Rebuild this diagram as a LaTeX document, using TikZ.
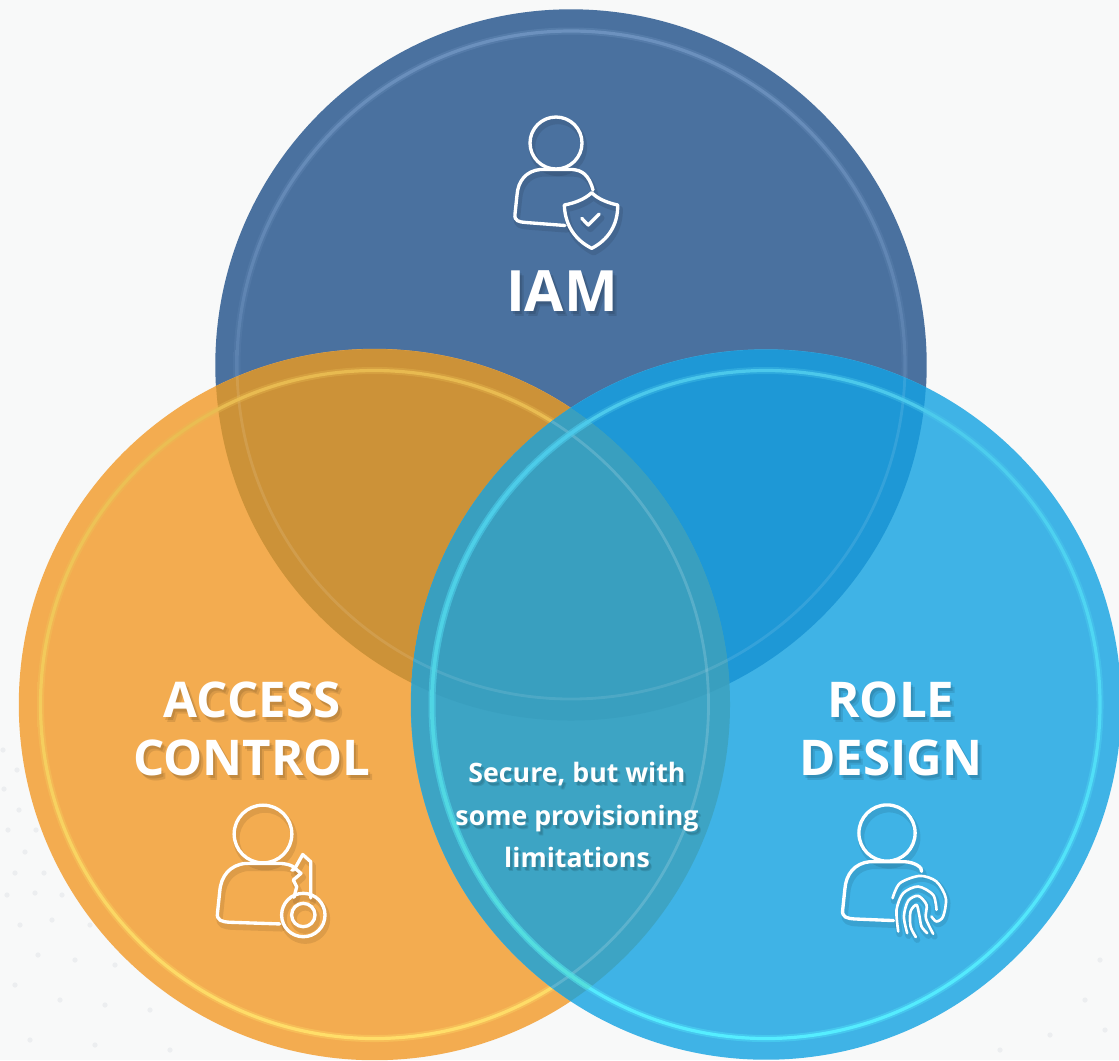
\documentclass[tikz,border=0pt]{standalone}
\usepackage{fontspec}
\setmainfont{Open Sans}
\usetikzlibrary{calc}
\definecolor{backcolor}{RGB}{248, 249, 249}
\definecolor{dotcolor}{RGB}{236, 238, 240}
\definecolor{iamcolor}{RGB}{74, 113, 159}
\definecolor{accesscolor}{RGB}{243, 172, 80}
\definecolor{rolecolor}{RGB}{63, 179, 230}
\definecolor{iamaccess}{RGB}{204, 146, 56}
\definecolor{iamrole}{RGB}{30, 152, 214}
\definecolor{accessrole}{RGB}{61, 164, 196}
\definecolor{allthree}{RGB}{57, 159, 191}
\definecolor{iamring}{RGB}{135, 195, 250}
\definecolor{iamringtop}{RGB}{108, 145, 190}
\definecolor{accessringtop}{RGB}{232, 186, 80}
\definecolor{accessring}{RGB}{255, 245, 110}
\definecolor{accessringlow}{RGB}{255, 222, 105}
\definecolor{roleringtop}{RGB}{75, 200, 235}
\definecolor{rolering}{RGB}{85, 238, 255}
\definecolor{roleringteal}{RGB}{85, 226, 220}
\tikzset{
    disc/.style={shape=circle,
                 inner sep=0pt,
                 minimum size=7.11cm},
    iconline/.style={draw=white,
                     line width=0.95pt,
                     line cap=round,
                     line join=round},
    fingerline/.style={draw=white,
                       line width=0.75pt,
                       line cap=round,
                       line join=round},
    iconshade/.style={draw=black,
                      draw opacity=0.09,
                      line width=1.8pt,
                      line cap=round,
                      line join=round},
    faintring/.style={draw=white,
                      draw opacity=0.1,
                      line width=0.8pt},
    biglabel/.style={text=white,
                     font=\fontsize{14}{16.6}\selectfont\bfseries,
                     align=center,
                     inner sep=0pt},
    toplabel/.style={text=white,
                     font=\fontsize{16.2}{16.6}\selectfont\bfseries,
                     align=center,
                     inner sep=0pt},
    smalllabel/.style={text=white,
                       font=\fontsize{7.6}{12.2}\selectfont\bfseries,
                       align=center,
                       inner sep=0pt},
    labelshade/.style={text=black,
                       text opacity=0.1}
}
% a ring in each circle, soft on both of its sides
\newcommand{\discring}[4]{
    \path[even odd rule,top color=#2,middle color=#3,bottom color=#4,opacity=0.35] (#1) circle (337.5) circle (330.5);
    \path[even odd rule,top color=#2,middle color=#3,bottom color=#4] (#1) circle (335.6) circle (332.4);
}
% head at the origin, #1 right end of the body, #2 lower end of the body
\newcommand{\personicon}[3]{
    \draw[#3] (0,0) circle (26);
    \draw[#3] #1 .. controls (33,32) and (26,27) .. (16,26.5)
        -- (-16,26.5) .. controls (-30,28) and (-38,38) .. (-39,52)
        -- (-41,71) .. controls (-42,78) and (-37,79) .. (-30,79.5) -- #2;
}
\newcommand{\shieldicon}[1]{
    \draw[#1] (591.7,192.7) .. controls (598,199) and (608,203) .. (617.7,205)
        .. controls (618,225) and (608,240) .. (591.7,248.3)
        .. controls (575,240) and (565,225) .. (564.3,205)
        .. controls (575,203) and (585,199) .. (591.7,192.7) -- cycle;
    \draw[#1] (581.7,218.3) -- (588.3,225) -- (599.3,214);
}
\newcommand{\keyicon}[1]{
    \draw[#1] (303.3,915) circle (21.7);
    \draw[#1] (303.3,915) circle (11.7);
    \draw[#1] (294,897.3) -- (296.7,886.7) -- (293.3,880) -- (301,873.3)
        -- (295,868.3) -- (302.7,854.5) -- (310.7,861.7) -- (310.7,898);
}
\newcommand{\fingericon}[1]{
    \begin{scope}[shift={(820,790)},x=0.00333cm,y=-0.00333cm]
        \draw[#1] plot[smooth] coordinates {(218,325) (240,280) (300,258) (350,275) (378,325) (370,380) (350,395) (335,380)};
        \draw[#1] plot[smooth] coordinates {(235,425) (230,360) (250,310) (295,290) (340,315) (350,360)};
        \draw[#1] plot[smooth] coordinates {(262,430) (252,380) (265,333) (295,318) (320,345) (318,385) (340,432)};
        \draw[#1] plot[smooth] coordinates {(288,442) (272,410) (272,365) (290,345) (298,375) (305,410) (322,430)};
    \end{scope}
}
\begin{document}
\begin{tikzpicture}[x=0.01cm,y=-0.01cm]
        \fill[backcolor] (0,0) rectangle (1119,1060);
        \useasboundingbox (0,0) rectangle (1119,1060);
        % faint dots of the backdrop
        \foreach \dotx/\doty in {3/750,17/770,4/789,19/810,8/830,36/830,25/852,15/873,44/873,7/895,35/893,62/895,20/925,52/920,90/925,38/955,75/960,115/965,15/985,60/1000,105/1005,150/1010,30/1040,95/1045,170/1050,1100/960,1085/1000,1050/1035,1105/1030,1000/1050}
            \fill[dotcolor] (\dotx,\doty) circle (2.6);
        % top circle
        \node[disc,fill=iamcolor] (iam) at (571,365) {};
        \discring{iam}{iamringtop}{iamring}{iamcolor}
        % left circle, with its overlap
        \node[disc,fill=accesscolor] (access) at (374.5,704.5) {};
        \begin{scope}
            \clip (access.center) circle (355.5);
            \fill[iamaccess] (iam.center) circle (355.5);
            \draw[faintring] (iam.center) circle (334);
        \end{scope}
        \discring{access}{accessringtop}{accessring}{accessringlow}
        % right circle, with its overlaps
        \node[disc,fill=rolecolor,minimum size=7.1cm] (role) at (766,704.5) {};
        \begin{scope}
            \clip (role.center) circle (355);
            \fill[iamrole] (iam.center) circle (355.5);
            \fill[accessrole] (access.center) circle (355.5);
            \begin{scope}
                \clip (access.center) circle (355.5);
                \fill[allthree] (iam.center) circle (355.5);
            \end{scope}
            \draw[faintring] (iam.center) circle (334);
            \draw[faintring,draw opacity=0.16] (access.center) circle (334);
        \end{scope}
        \discring{role}{roleringtop}{rolering}{rolering}
        \begin{scope}
            \clip (access.center) circle (355.5);
            \discring{role}{roleringtop}{roleringteal}{roleringteal}
        \end{scope}
        % icons
        \begin{scope}[shift={(556,143)}]
            \personicon{(37,47)}{(9,82.5)}{iconshade,shift={(2,4)}}
            \personicon{(37,47)}{(9,82.5)}{iconline}
        \end{scope}
        \shieldicon{iconshade,shift={(2,4)}}
        \shieldicon{iconline}
        \begin{scope}[shift={(263,834)},x=0.0111cm,y=-0.0111cm]
            \personicon{(26,32.5)}{(15,81)}{iconshade,shift={(2,4)}}
            \personicon{(26,32.5)}{(15,81)}{iconline}
        \end{scope}
        \keyicon{iconshade,shift={(2,4)}}
        \keyicon{iconline}
        \begin{scope}[shift={(887,833)},x=0.0108cm,y=-0.0108cm]
            \personicon{(32,35.5)}{(6,81)}{iconshade,shift={(2,4)}}
            \personicon{(32,35.5)}{(6,81)}{iconline}
        \end{scope}
        \fingericon{iconshade,shift={(4,8)}}
        \fingericon{fingerline}
        % labels
        \node[toplabel,labelshade] at (564,294) {IAM};
        \node[toplabel,labelshade] at (566,296) {IAM};
        \node[toplabel] (iamlabel) at (562,291) {IAM};
        \node[biglabel,labelshade] at (254,732) {ACCESS\\CONTROL};
        \node[biglabel,labelshade] at (256,734) {ACCESS\\CONTROL};
        \node[biglabel] (accesslabel) at (252,729) {ACCESS\\CONTROL};
        \node[biglabel,labelshade] at (893,732) {ROLE\\DESIGN};
        \node[biglabel,labelshade] at (895,734) {ROLE\\DESIGN};
        \node[biglabel] (rolelabel) at (891,729) {ROLE\\DESIGN};
        \node[smalllabel,labelshade] at (579,818) {Secure, but with\\some provisioning\\limitations};
        \node[smalllabel,labelshade] at (580,819) {Secure, but with\\some provisioning\\limitations};
        \node[smalllabel] (overlaplabel) at (577,815) {Secure, but with\\some provisioning\\limitations};
    \end{tikzpicture}
\end{document}
